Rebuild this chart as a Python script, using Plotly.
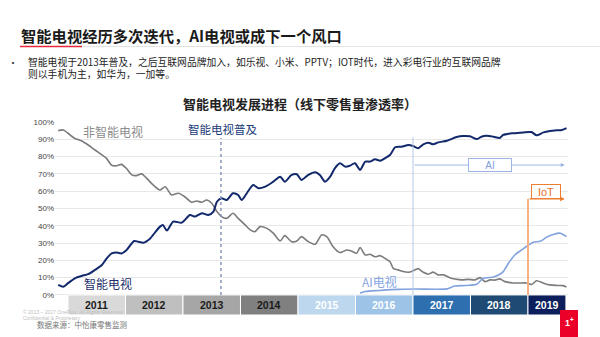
import plotly.graph_objects as go

# ---------------- data (decimal years, % penetration) ----------------
gray_t = [2010.83, 2010.92, 2011.00, 2011.12, 2011.24, 2011.35, 2011.47, 2011.59, 2011.67, 2011.76,
          2011.85, 2011.93, 2012.02, 2012.11, 2012.19, 2012.28, 2012.37, 2012.48, 2012.60, 2012.69,
          2012.80, 2012.92, 2013.03, 2013.15, 2013.24, 2013.33, 2013.41, 2013.50, 2013.59, 2013.67,
          2013.76, 2013.87, 2013.96, 2014.08, 2014.17, 2014.25, 2014.34, 2014.46, 2014.57, 2014.69,
          2014.77, 2014.89, 2014.98, 2015.06, 2015.18, 2015.30, 2015.41, 2015.50, 2015.61, 2015.73,
          2015.85, 2015.93, 2016.02, 2016.08, 2016.17, 2016.25, 2016.34, 2016.43, 2016.51, 2016.60,
          2016.66, 2016.74, 2016.83, 2016.92, 2017.00, 2017.09, 2017.18, 2017.27, 2017.35, 2017.44,
          2017.53, 2017.64, 2017.73, 2017.85, 2017.96, 2018.08, 2018.17, 2018.25, 2018.34, 2018.43,
          2018.51, 2018.60, 2018.74, 2018.86, 2018.98, 2019.06, 2019.15, 2019.27, 2019.38, 2019.50,
          2019.61, 2019.67]
gray_v = [95.0, 95.4, 93.5, 90.5, 89.0, 86.7, 83.8, 81.0, 79.0, 75.0,
          74.7, 75.5, 73.0, 69.4, 69.0, 70.0, 67.4, 63.6, 60.7, 62.6,
          57.8, 58.8, 56.8, 53.6, 54.3, 53.6, 54.9, 53.0, 48.2, 45.3,
          44.3, 47.2, 44.3, 40.5, 37.6, 36.6, 39.5, 38.5, 35.7, 31.2,
          34.3, 30.8, 31.2, 33.7, 30.8, 29.3, 34.7, 33.7, 27.9, 24.5,
          26.0, 25.4, 24.1, 27.4, 23.1, 23.5, 22.1, 22.7, 21.2, 19.2,
          15.2, 14.5, 13.5, 13.1, 13.9, 15.2, 13.1, 12.0, 13.2, 11.6,
          11.6, 10.0, 9.2, 8.7, 9.0, 8.7, 10.0, 7.7, 8.7, 8.6,
          9.3, 7.7, 6.9, 6.9, 6.9, 6.0, 8.2, 6.8, 5.8, 5.5,
          5.4, 4.5]

smart_t = [2010.83, 2010.92, 2011.00, 2011.12, 2011.24, 2011.35, 2011.47, 2011.59, 2011.67, 2011.76,
           2011.85, 2011.93, 2012.02, 2012.15, 2012.22, 2012.31, 2012.43, 2012.48, 2012.60, 2012.65,
           2012.72, 2012.83, 2012.98, 2013.12, 2013.21, 2013.33, 2013.44, 2013.53, 2013.59, 2013.67,
           2013.76, 2013.87, 2013.96, 2014.02, 2014.11, 2014.22, 2014.31, 2014.43, 2014.57, 2014.69,
           2014.77, 2014.89, 2014.98, 2015.06, 2015.18, 2015.30, 2015.38, 2015.47, 2015.56, 2015.64,
           2015.73, 2015.82, 2015.90, 2015.99, 2016.08, 2016.17, 2016.25, 2016.34, 2016.43, 2016.51,
           2016.60, 2016.69, 2016.80, 2016.92, 2017.00, 2017.09, 2017.18, 2017.27, 2017.35, 2017.44,
           2017.59, 2017.76, 2017.87, 2017.99, 2018.11, 2018.19, 2018.28, 2018.40, 2018.51, 2018.57,
           2018.74, 2018.92, 2019.06, 2019.15, 2019.27, 2019.38, 2019.50, 2019.59, 2019.67]
smart_v = [5.8, 4.8, 6.8, 9.6, 11.0, 12.0, 14.5, 17.3, 21.0, 24.0,
           24.5, 24.0, 26.0, 31.2, 30.8, 30.2, 32.7, 34.7, 39.5, 40.5,
           37.2, 42.4, 41.8, 46.2, 45.3, 47.2, 46.2, 48.2, 53.9, 55.9,
           54.9, 58.8, 57.8, 54.9, 58.8, 63.6, 61.7, 62.6, 65.5, 68.4,
           65.5, 69.4, 69.8, 66.5, 69.4, 70.9, 69.4, 65.5, 68.4, 73.2,
           76.1, 74.2, 74.7, 76.1, 72.3, 77.1, 77.1, 78.4, 77.6, 79.0,
           80.9, 85.4, 85.7, 86.7, 86.1, 84.8, 87.1, 88.0, 87.1, 88.2,
           89.2, 91.3, 91.9, 91.7, 90.1, 91.5, 92.0, 91.5, 90.8, 92.5,
           93.5, 94.0, 94.2, 92.3, 94.0, 94.8, 95.2, 95.4, 96.5]

ai_t = [2016.08, 2016.17, 2016.43, 2016.74, 2017.03, 2017.59, 2017.67, 2017.73, 2017.93, 2018.11,
        2018.22, 2018.40, 2018.51, 2018.57, 2018.66, 2018.77, 2018.89, 2019.01, 2019.09, 2019.21,
        2019.33, 2019.44, 2019.56, 2019.67]
ai_v = [1.0, 2.0, 2.6, 3.2, 3.4, 3.5, 4.5, 5.2, 5.5, 6.2,
        9.6, 10.4, 12.0, 13.5, 18.3, 23.1, 26.0, 28.9, 30.5, 31.0,
        33.5, 35.0, 35.7, 33.7]

years = ["2011", "2012", "2013", "2014", "2015", "2016", "2017", "2018", "2019"]
year_start = [2011, 2012, 2013, 2014, 2015, 2016, 2017, 2018, 2019]
year_end = [2012, 2013, 2014, 2015, 2016, 2017, 2018, 2019, 2019.66]
year_fill = ["#d9d9d9", "#bfbfbf", "#a6a6a6", "#808080", "#bdd7ee", "#9dc3e6", "#2e6fb0", "#1f4a73", "#0c1f5c"]
year_text = ["#1a1a1a", "#1a1a1a", "#1a1a1a", "#1a1a1a", "#ffffff", "#ffffff", "#ffffff", "#ffffff", "#ffffff"]

y_ticks = [0, 10, 20, 30, 40, 50, 60, 70, 80, 90, 100]
popular_year = 2013.66
ai_year = 2017.0
iot_year = 2019.0

# ---------------- layout geometry ----------------
W, H = 600, 337
L, R, T, B = 55, 32, 122, 22
PW, PH = W - L - R, H - T - B
CJK = "Noto Sans CJK SC"
LAT = "Liberation Sans"


def px(x):
    return (x - L) / PW


def py(y):
    return (H - B - y) / PH


def label(x, y, text, size, color, family=CJK, xanchor="center"):
    return dict(x=px(x), y=py(y), xref="paper", yref="paper", text=text, showarrow=False,
                xanchor=xanchor, yanchor="middle", font=dict(family=family, size=size, color=color))


fig = go.Figure()
fig.add_trace(go.Scatter(x=gray_t, y=gray_v, mode="lines",
                         line=dict(color="#7b7b7b", width=1.6, shape="spline", smoothing=0.7),
                         hoverinfo="skip"))
fig.add_trace(go.Scatter(x=ai_t, y=ai_v, mode="lines",
                         line=dict(color="#82a3dd", width=1.6, shape="spline", smoothing=0.7),
                         hoverinfo="skip"))
fig.add_trace(go.Scatter(x=smart_t, y=smart_v, mode="lines",
                         line=dict(color="#12296b", width=2, shape="spline", smoothing=0.7),
                         hoverinfo="skip"))

shapes = []
annotations = []

# year band
for yl, s, e, fc, tc in zip(years, year_start, year_end, year_fill, year_text):
    shapes.append(dict(type="rect", xref="x", yref="y", x0=s, x1=e, y0=-11.6, y1=0,
                       fillcolor=fc, line=dict(color="white", width=1), layer="above"))
    annotations.append(dict(x=(s + e) / 2, y=-5.8, xref="x", yref="y", text="<b>%s</b>" % yl,
                            showarrow=False, xanchor="center", yanchor="middle",
                            font=dict(family=LAT, size=10.5, color=tc)))

# vertical markers
shapes.append(dict(type="line", xref="x", yref="y", x0=popular_year, x1=popular_year, y0=0, y1=90.8,
                   line=dict(color="#8796bd", width=1.5, dash="dot")))
shapes.append(dict(type="line", xref="x", yref="y", x0=ai_year, x1=ai_year, y0=0, y1=91.3,
                   line=dict(color="#b4c7e7", width=1)))
shapes.append(dict(type="line", xref="x", yref="y", x0=iot_year, x1=iot_year, y0=0, y1=55.5,
                   line=dict(color="#f5b183", width=2)))

# arrows
annotations.append(dict(x=2019.64, y=75.1, ax=ai_year, ay=75.1, xref="x", yref="y", axref="x", ayref="y",
                        showarrow=True, arrowhead=2, arrowsize=0.8, arrowwidth=1, arrowcolor="#9db5e3", text=""))
annotations.append(dict(x=2019.64, y=55.5, ax=iot_year, ay=55.5, xref="x", yref="y", axref="x", ayref="y",
                        showarrow=True, arrowhead=2, arrowsize=0.8, arrowwidth=1.2, arrowcolor="#ed7d31", text=""))
annotations.append(dict(x=2018.34, y=75.1, xref="x", yref="y", text="AI", showarrow=False,
                        xanchor="center", yanchor="middle",
                        bgcolor="white", bordercolor="#9db5e3", borderwidth=1, borderpad=1,
                        width=40, height=10, font=dict(family=LAT, size=10, color="#7e9fdc")))
annotations.append(dict(x=2019.31, y=59.6, xref="x", yref="y", text="IoT", showarrow=False,
                        xanchor="center", yanchor="middle",
                        bgcolor="white", bordercolor="#ed7d31", borderwidth=1, borderpad=1,
                        width=26, height=11, font=dict(family=LAT, size=11, color="#e8702a")))

# series labels
annotations.append(label(113, 131, "非智能电视", 12, "#8c8c8c"))
annotations.append(label(108, 283, "智能电视", 12, "#1c2f6b"))
annotations.append(label(379, 281, "AI电视", 12, "#86a5df"))
annotations.append(label(222, 129, "智能电视普及", 11.5, "#203a78"))

# chart title
annotations.append(label(300, 104, "<b>智能电视发展进程（线下零售量渗透率）</b>", 13, "#222222"))

# page heading
annotations.append(label(19, 35, "<b>智能电视经历多次迭代，AI电视或成下一个风口</b>", 15.3, "#1a1a1a",
                         xanchor="left"))
shapes.append(dict(type="line", xref="paper", yref="paper", x0=px(20), x1=px(600), y0=py(46.5), y1=py(46.5),
                   line=dict(color="#e3e3e3", width=1)))
shapes.append(dict(type="line", xref="paper", yref="paper", x0=px(20), x1=px(82), y0=py(46.5), y1=py(46.5),
                   line=dict(color="#e8283c", width=1.5)))

# bullet text
annotations.append(label(6, 62, "•", 10, "#333333", xanchor="left"))
annotations.append(label(26, 62, "智能电视于2013年普及，之后互联网品牌加入，如乐视、小米、PPTV；IOT时代，进入彩电行业的互联网品牌",
                         9.8, "#222222", xanchor="left"))
annotations.append(label(26, 74, "则以手机为主，如华为，一加等。", 9.8, "#222222", xanchor="left"))

# footer
annotations.append(label(21, 312, "© 2013 – 2017 OnePlus. All Rights Reserved.", 5, "#c0c0c0",
                         family=LAT, xanchor="left"))
annotations.append(label(21, 318, "Confidential & Proprietary", 5, "#c0c0c0", family=LAT, xanchor="left"))
annotations.append(label(35, 324, "数据来源：中怡康零售监测", 7.5, "#777777", xanchor="left"))

# logo block
shapes.append(dict(type="rect", xref="paper", yref="paper", x0=px(560), x1=px(578), y0=py(337), y1=py(310),
                   fillcolor="#eb0029", line=dict(width=0)))
annotations.append(label(569, 322, "<b>1<sup>+</sup></b>", 9, "white", family=LAT))

fig.update_layout(
    width=W, height=H,
    margin=dict(l=L, r=R, t=T, b=B),
    paper_bgcolor="white", plot_bgcolor="white",
    showlegend=False,
    shapes=shapes, annotations=annotations,
    xaxis=dict(range=[2010.774, 2019.696], showgrid=False, zeroline=False, showticklabels=False,
               showline=False, fixedrange=True),
    yaxis=dict(range=[-11.6, 100], tickvals=y_ticks, ticktext=["%d%%" % v for v in y_ticks],
               showgrid=True, gridcolor="#e8e8e8", gridwidth=1, zeroline=False, showline=False,
               tickfont=dict(family=LAT, size=8, color="#444444"), ticks="", fixedrange=True),
)

fig.write_html("out.html", config={"displayModeBar": False})
